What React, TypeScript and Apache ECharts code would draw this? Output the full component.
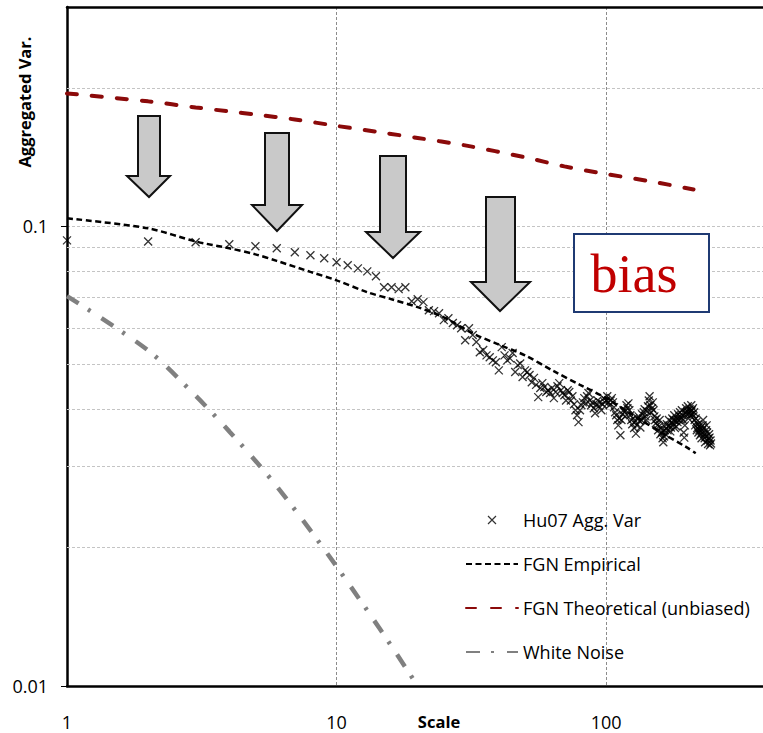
import { useEffect, useRef } from 'react';
import * as echarts from 'echarts';

// ---------- data ----------
// Hu07 aggregated variance, one point per aggregation scale m = 1..245
const hu07Scales: number[] = Array.from({ length: 245 }, (_, i) => i + 1);
const hu07AggVar: number[] = [
  0.0932, 0.0927, 0.0923, 0.0914, 0.0905, 0.0896, 0.0878, 0.0865, 0.0852, 0.0835,
  0.0823, 0.0810, 0.0798, 0.0779, 0.0737, 0.0737, 0.0730, 0.0737, 0.0687, 0.0694,
  0.0684, 0.0657, 0.0654, 0.0647, 0.0625, 0.0631, 0.0616, 0.0609, 0.0600, 0.0565,
  0.0600, 0.0580, 0.0560, 0.0532, 0.0538, 0.0524, 0.0519, 0.0511, 0.0506, 0.0486,
  0.0546, 0.0524, 0.0511, 0.0516, 0.0530, 0.0482, 0.0499, 0.0503, 0.0470, 0.0486,
  0.0482, 0.0475, 0.0458, 0.0468, 0.0452, 0.0425, 0.0445, 0.0456, 0.0447, 0.0436,
  0.0440, 0.0434, 0.0445, 0.0423, 0.0436, 0.0449, 0.0456, 0.0440, 0.0434, 0.0429,
  0.0418, 0.0440, 0.0436, 0.0418, 0.0427, 0.0410, 0.0398, 0.0388, 0.0375, 0.0398,
  0.0408, 0.0414, 0.0423, 0.0412, 0.0427, 0.0434, 0.0418, 0.0408, 0.0414, 0.0402,
  0.0392, 0.0410, 0.0418, 0.0406, 0.0414, 0.0398, 0.0410, 0.0423, 0.0414, 0.0418,
  0.0427, 0.0414, 0.0408, 0.0418, 0.0423, 0.0414, 0.0404, 0.0394, 0.0388, 0.0379,
  0.0369, 0.0382, 0.0351, 0.0379, 0.0390, 0.0398, 0.0394, 0.0386, 0.0408, 0.0402,
  0.0412, 0.0398, 0.0388, 0.0379, 0.0371, 0.0382, 0.0364, 0.0375, 0.0354, 0.0369,
  0.0382, 0.0386, 0.0377, 0.0365, 0.0379, 0.0390, 0.0382, 0.0394, 0.0400, 0.0386,
  0.0379, 0.0396, 0.0406, 0.0418, 0.0427, 0.0408, 0.0394, 0.0402, 0.0414, 0.0398,
  0.0386, 0.0379, 0.0373, 0.0382, 0.0369, 0.0360, 0.0367, 0.0379, 0.0353, 0.0364,
  0.0356, 0.0346, 0.0339, 0.0349, 0.0360, 0.0353, 0.0364, 0.0371, 0.0360, 0.0367,
  0.0379, 0.0369, 0.0358, 0.0365, 0.0375, 0.0382, 0.0371, 0.0379, 0.0388, 0.0364,
  0.0377, 0.0367, 0.0382, 0.0375, 0.0390, 0.0379, 0.0386, 0.0394, 0.0380, 0.0384,
  0.0398, 0.0388, 0.0379, 0.0356, 0.0347, 0.0369, 0.0394, 0.0402, 0.0390, 0.0396,
  0.0406, 0.0382, 0.0392, 0.0400, 0.0388, 0.0396, 0.0408, 0.0398, 0.0390, 0.0402,
  0.0386, 0.0394, 0.0379, 0.0369, 0.0382, 0.0375, 0.0360, 0.0364, 0.0371, 0.0356,
  0.0367, 0.0360, 0.0351, 0.0364, 0.0354, 0.0346, 0.0360, 0.0369, 0.0379, 0.0364,
  0.0353, 0.0346, 0.0339, 0.0349, 0.0360, 0.0369, 0.0356, 0.0342, 0.0336, 0.0346,
  0.0353, 0.0347, 0.0334, 0.0342, 0.0337,
];

const fgnEmpiricalScales = [1, 2, 3, 4, 5, 6, 8, 10, 13, 16, 20, 25, 32, 40, 50, 64, 80, 100, 128, 160, 200, 215];
const fgnEmpiricalVar = [
  0.1041, 0.0990, 0.0927, 0.0896, 0.0869, 0.0841, 0.0796, 0.0763, 0.0719, 0.0694,
  0.0667, 0.0634, 0.0585, 0.0553, 0.0524, 0.0484, 0.0452, 0.0423, 0.0386, 0.0356,
  0.0330, 0.0321,
];

const fgnTheoreticalScales = [1, 2, 3, 4, 5, 7, 10, 15, 20, 30, 50, 70, 100, 150, 211];
const fgnTheoreticalVar = [
  0.1946, 0.1870, 0.1814, 0.1778, 0.1751, 0.1708, 0.1654, 0.1597, 0.1557, 0.1500,
  0.1413, 0.1350, 0.1300, 0.1249, 0.1203,
];

const whiteNoiseScales = [1, 2, 3, 4, 5, 6, 8, 10, 13, 16, 20];
const whiteNoiseVar = [0.0705, 0.0537, 0.0428, 0.0358, 0.0309, 0.0272, 0.0218, 0.0182, 0.0146, 0.0122, 0.0100];

const xTickValues = [1, 10, 100];
const yTickValues = [0.01, 0.1];
const yMinorGridValues = [0.02, 0.03, 0.04, 0.05, 0.06, 0.07, 0.08, 0.09, 0.2];

const seriesNames = ['Hu07 Agg. Var', 'FGN Empirical', 'FGN Theoretical (unbiased)', 'White Noise'];

const FONT = "'Open Sans', 'Noto Sans', sans-serif";

function pairs(xs: number[], ys: number[]) {
  return xs.map((x, i) => [x, ys[i]]);
}

function arrow(shaftL: number, shaftR: number, top: number, headY: number, headL: number, headR: number, tipX: number, tipY: number) {
  return {
    type: 'polygon',
    shape: {
      points: [
        [shaftL, top], [shaftR, top], [shaftR, headY], [headR, headY],
        [tipX, tipY], [headL, headY], [shaftL, headY],
      ],
    },
    style: { fill: '#c9c9c9', stroke: '#111', lineWidth: 2 },
    z: 100,
  };
}

const isPow10 = (v: number) => Math.abs(Math.log10(v) - Math.round(Math.log10(v))) < 1e-6;

const hiddenSymbol = { color: 'transparent', borderColor: 'transparent', borderWidth: 0 };

export default function App() {
  const ref = useRef<HTMLDivElement>(null);

  useEffect(() => {
    document.body.style.margin = '0';
    if (!ref.current) return;
    const chart = echarts.init(ref.current, undefined, { renderer: 'svg' });

    const xAxisBase = { type: 'log', logBase: 10, min: 1, max: 382 };

    chart.setOption({
      animation: false,
      backgroundColor: '#fff',
      grid: { left: 67, right: -2, top: 7, bottom: 47 },
      xAxis: [
        {
          ...xAxisBase,
          position: 'bottom',
          axisLine: { show: true, lineStyle: { color: '#000', width: 2.5 } },
          axisTick: { show: false },
          axisLabel: {
            customValues: xTickValues,
            formatter: (v: number) => (isPow10(v) ? String(Math.round(v)) : ''),
            margin: 27,
            fontSize: 18,
            fontFamily: FONT,
            color: '#000',
          },
          splitLine: { show: true, lineStyle: { color: '#8c8c8c', type: [3, 2], width: 1 } },
        },
        {
          ...xAxisBase,
          position: 'top',
          axisLine: { show: true, lineStyle: { color: '#000', width: 2.5 } },
          axisTick: { show: false },
          axisLabel: { show: false },
          splitLine: { show: false },
        },
      ],
      yAxis: {
        type: 'log',
        logBase: 10,
        min: 0.01,
        max: 0.3,
        axisLine: { show: true, lineStyle: { color: '#000', width: 2.5 } },
        axisTick: { show: true, length: 6, customValues: yTickValues, lineStyle: { color: '#000', width: 1 } },
        axisLabel: {
          customValues: yTickValues,
          formatter: (v: number) => (isPow10(v) ? (v >= 0.1 ? '0.1' : '0.01') : ''),
          margin: 19,
          fontSize: 18,
          fontFamily: FONT,
          color: '#000',
        },
        splitLine: { show: true, lineStyle: { color: '#c4c4c4', type: [3, 2], width: 1 } },
      },
      legend: {
        orient: 'vertical',
        left: 460,
        top: 506,
        itemWidth: 52,
        itemHeight: 8,
        itemGap: 26,
        textStyle: { fontFamily: FONT, fontSize: 18, color: '#000' },
        data: [
          { name: seriesNames[0], itemStyle: { color: 'none', borderColor: '#000', borderWidth: 1.2 } },
          { name: seriesNames[1], itemStyle: hiddenSymbol },
          { name: seriesNames[2], itemStyle: hiddenSymbol },
          { name: seriesNames[3], itemStyle: hiddenSymbol },
        ],
      },
      series: [
        {
          name: seriesNames[0],
          type: 'scatter',
          symbol: 'path://M0,0L10,10M10,0L0,10',
          symbolSize: 8,
          itemStyle: { color: 'none', borderColor: '#000', borderWidth: 1.3 },
          data: pairs(hu07Scales, hu07AggVar),
          z: 3,
          markLine: {
            silent: true,
            symbol: 'none',
            z: 1,
            label: { show: false },
            lineStyle: { color: '#c4c4c4', type: [3, 2], width: 1 },
            emphasis: { disabled: true },
            data: yMinorGridValues.map((v) => ({ yAxis: v })),
          },
        },
        {
          name: seriesNames[1],
          type: 'line',
          symbol: 'none',
          smooth: 0.3,
          lineStyle: { color: '#000', width: 2.5, type: [6, 3.5] },
          itemStyle: { color: '#000' },
          data: pairs(fgnEmpiricalScales, fgnEmpiricalVar),
          z: 4,
        },
        {
          name: seriesNames[2],
          type: 'line',
          symbol: 'none',
          smooth: 0.3,
          lineStyle: { color: '#8b0a0a', width: 4, type: [10, 15], cap: 'round' },
          itemStyle: { color: '#8b0a0a' },
          data: pairs(fgnTheoreticalScales, fgnTheoreticalVar),
          z: 4,
        },
        {
          name: seriesNames[3],
          type: 'line',
          symbol: 'none',
          smooth: 0.3,
          lineStyle: { color: '#808080', width: 4.5, type: [14, 11, 3, 13] },
          itemStyle: { color: '#808080' },
          data: pairs(whiteNoiseScales, whiteNoiseVar),
          z: 4,
        },
      ],
      graphic: [
        arrow(138, 160, 116, 176, 127, 170, 149, 197),
        arrow(265, 289, 133, 205, 252, 302, 277, 231),
        arrow(380, 406, 156, 232, 366, 420, 393, 258),
        arrow(486, 515, 197, 282, 471, 530, 500, 311),
        {
          type: 'rect',
          shape: { x: 574, y: 234, width: 135, height: 78 },
          style: { fill: '#fff', stroke: '#1f3a73', lineWidth: 2 },
          z: 100,
        },
        {
          type: 'text',
          x: 634,
          y: 274,
          style: {
            text: 'bias',
            fill: '#c00000',
            font: "54px 'Liberation Serif', 'DejaVu Serif', serif",
            align: 'center',
            verticalAlign: 'middle',
          },
          z: 101,
        },
        {
          type: 'text',
          x: 24,
          y: 102,
          rotation: Math.PI / 2,
          style: {
            text: 'Aggregated Var.',
            fill: '#000',
            font: `bold 16.5px ${FONT}`,
            align: 'center',
            verticalAlign: 'middle',
          },
        },
        {
          type: 'text',
          x: 439,
          y: 721,
          style: {
            text: 'Scale',
            fill: '#000',
            font: `bold 16.5px ${FONT}`,
            align: 'center',
            verticalAlign: 'middle',
          },
        },
      ],
    });

    return () => chart.dispose();
  }, []);

  return <div ref={ref} style={{ width: 763, height: 733 }} />;
}
